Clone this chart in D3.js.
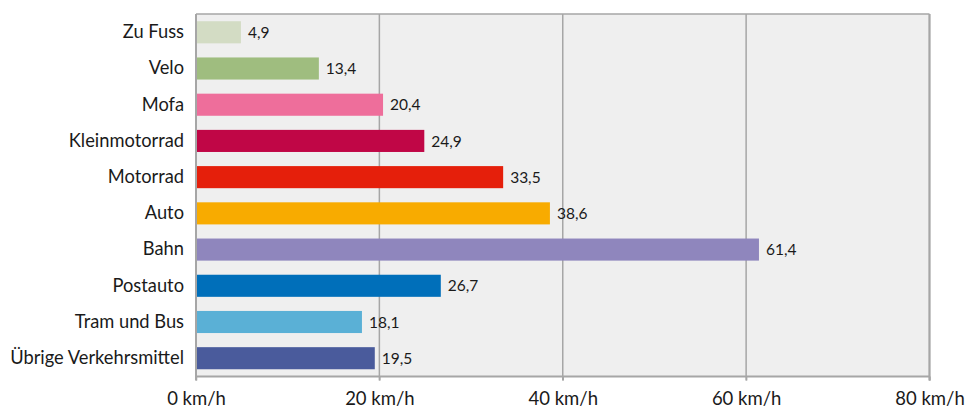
<!DOCTYPE html>
<html><head><meta charset="utf-8">
<script src="https://cdn.jsdelivr.net/npm/d3@7"></script>
<style>body{margin:0;background:#fff;} svg{display:block;}</style>
</head><body><svg id="c" width="965" height="408"></svg>
<script>
const categories = ["Zu Fuss","Velo","Mofa","Kleinmotorrad","Motorrad","Auto","Bahn","Postauto","Tram und Bus","Übrige Verkehrsmittel"];
const values = [4.9,13.4,20.4,24.9,33.5,38.6,61.4,26.7,18.1,19.5];
const colors = ["#d3dcc4","#9fbd7f","#ee6e9b","#c00646","#e51f0b","#f8ab00","#8f86bd","#006fba","#5ab0d6","#4a5b9c"];
const ticks = [0,20,40,60,80];
const tickLabel = d => d + " km/h";

const m = {l:196, r:35.5, t:14, b:31.5};
const W = 965, H = 408;
const svg = d3.select("#c");
const font = "Lato, 'Open Sans', sans-serif";
const x = d3.scaleLinear().domain([0,80]).range([m.l, W - m.r]);
const y = d3.scaleBand().domain(categories).range([m.t, H - m.b]).paddingInner(0.39).paddingOuter(0.2);

svg.append("rect").attr("x", x(0)).attr("y", m.t).attr("width", x(80)-x(0)).attr("height", H-m.b-m.t).attr("fill","#efefef");

// gridlines
svg.append("g").selectAll("line").data(ticks.slice(1)).join("line")
  .attr("x1", d=>x(d)).attr("x2", d=>x(d)).attr("y1", m.t).attr("y2", H-m.b+4)
  .attr("stroke","#a6a6a6").attr("stroke-width",1.5);
// top border
svg.append("line").attr("x1",x(0)).attr("x2",x(80)).attr("y1",m.t).attr("y2",m.t).attr("stroke","#a6a6a6").attr("stroke-width",1.5);

// bars
svg.append("g").selectAll("rect").data(categories).join("rect")
  .attr("x", x(0)).attr("y", d=>y(d)).attr("height", y.bandwidth())
  .attr("width", (d,i)=>x(values[i])-x(0)).attr("fill",(d,i)=>colors[i]);

// value labels
svg.append("g").selectAll("text").data(categories).join("text")
  .attr("x",(d,i)=>x(values[i])+7).attr("y", d=>y(d)+y.bandwidth()/2).attr("dy","0.36em")
  .attr("font-family",font).attr("font-size",15.5).attr("fill","#1a1a1a")
  .text((d,i)=>String(values[i]).replace(".",","));

// x axis
const xa = svg.append("g").attr("transform",`translate(0,${H-m.b})`)
  .call(d3.axisBottom(x).tickValues(ticks).tickFormat(tickLabel).tickSize(4).tickPadding(11));
xa.select(".domain").attr("stroke","#a6a6a6").attr("stroke-width",2).attr("d",`M${x(0)},0H${x(80)}`);
xa.selectAll(".tick line").attr("stroke","#a6a6a6").attr("stroke-width",1.5);
xa.selectAll("text").attr("font-family",font).attr("font-size",18.5).attr("fill","#1a1a1a");

// y axis
const ya = svg.append("g").attr("transform",`translate(${x(0)},0)`)
  .call(d3.axisLeft(y).tickSize(0).tickPadding(12));
ya.select(".domain").attr("stroke","#a6a6a6").attr("stroke-width",2).attr("d",`M0,${m.t}V${H-m.b+4}`);
ya.selectAll("text").attr("font-family",font).attr("font-size",18.3).attr("fill","#1a1a1a");
// right border
svg.append("line").attr("x1",x(80)).attr("x2",x(80)).attr("y1",m.t).attr("y2",H-m.b+4).attr("stroke","#a6a6a6").attr("stroke-width",2);
</script></body></html>
